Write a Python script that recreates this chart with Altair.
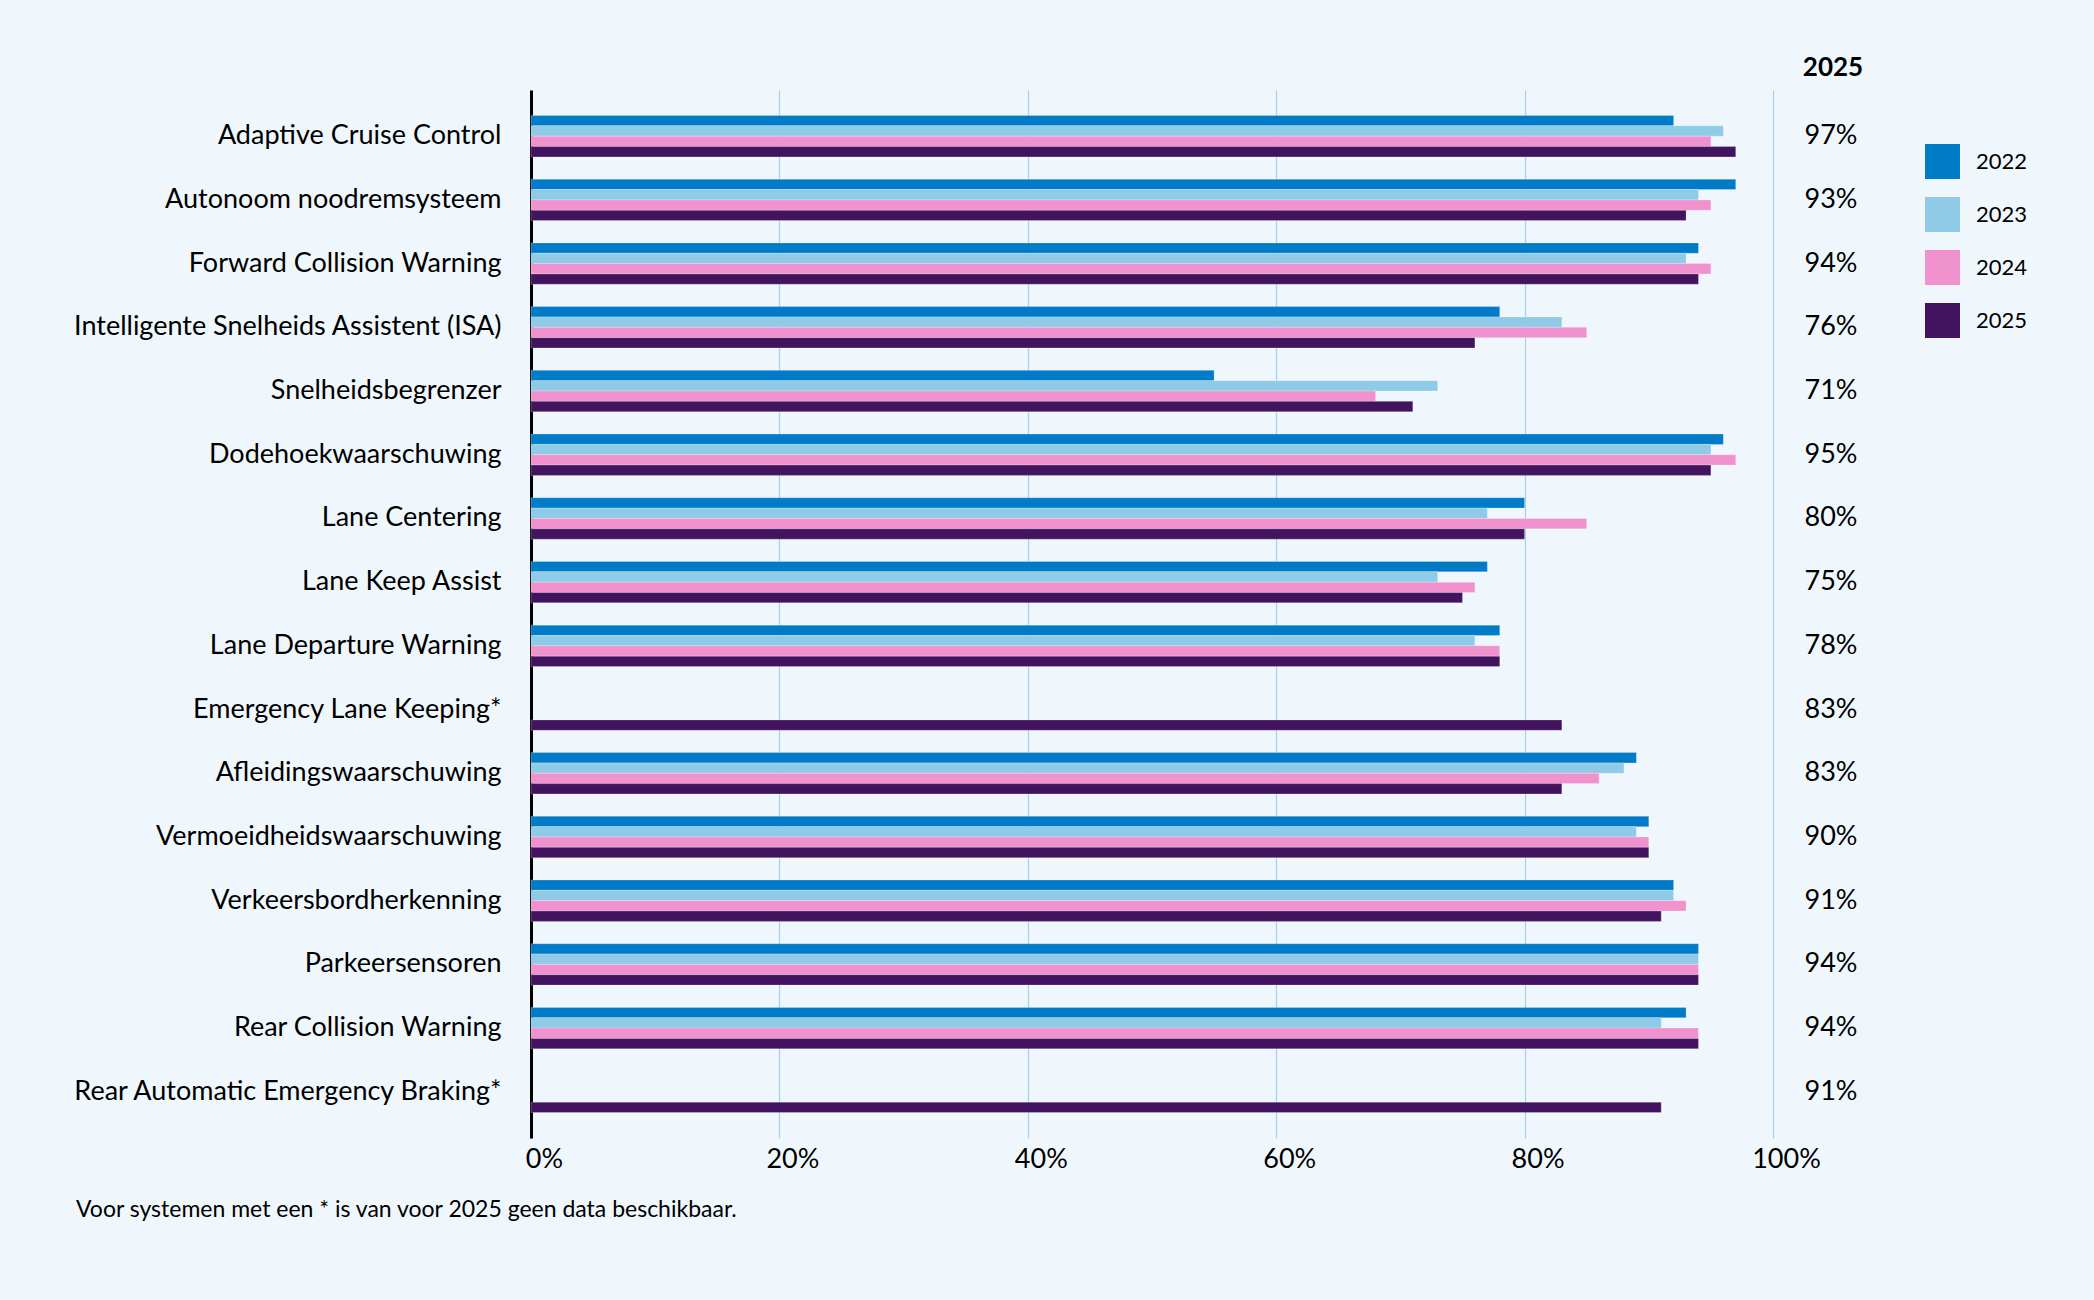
import altair as alt
import pandas as pd

# Share of new cars equipped with each driver-assistance system, per year (%)
systems = [
    "Adaptive Cruise Control",
    "Autonoom noodremsysteem",
    "Forward Collision Warning",
    "Intelligente Snelheids Assistent (ISA)\u00a0",
    "Snelheidsbegrenzer",
    "Dodehoekwaarschuwing",
    "Lane Centering",
    "Lane Keep Assist",
    "Lane Departure Warning",
    "Emergency Lane Keeping*",
    "Afleidingswaarschuwing",
    "Vermoeidheidswaarschuwing",
    "Verkeersbordherkenning",
    "Parkeersensoren",
    "Rear Collision Warning",
    "Rear Automatic Emergency Braking*",
]
years = ["2022", "2023", "2024", "2025"]
v2022 = [92, 97, 94, 78, 55, 96, 80, 77, 78, None, 89, 90, 92, 94, 93, None]
v2023 = [96, 94, 93, 83, 73, 95, 77, 73, 76, None, 88, 89, 92, 94, 91, None]
v2024 = [95, 95, 95, 85, 68, 97, 85, 76, 78, None, 86, 90, 93, 94, 94, None]
v2025 = [97, 93, 94, 76, 71, 95, 80, 75, 78, 83, 83, 90, 91, 94, 94, 91]
colors = ["#007bc7", "#8fcae7", "#f092cd", "#42145f"]
ticks = [0, 20, 40, 60, 80, 100]
footnote = "Voor systemen met een * is van voor 2025 geen data beschikbaar."

FONT = "Lato"
BG = "#eff7fd"

rows = []
for year, series in zip(years, [v2022, v2023, v2024, v2025]):
    for system, value in zip(systems, series):
        if value is not None:
            rows.append({"system": system, "year": year, "value": value})
df = pd.DataFrame(rows)
df25 = pd.DataFrame({"system": systems, "label": [f"{v}%" for v in v2025]})

y_enc = alt.Y(
    "system:N",
    sort=systems,
    scale=alt.Scale(paddingInner=0.35, paddingOuter=0.4),
    axis=alt.Axis(
        title=None,
        ticks=False,
        tickSize=0,
        labelPadding=30,
        labelLimit=700,
        labelFont=FONT,
        labelFontSize=27,
        labelColor="#000000",
        domainColor="#000000",
        domainWidth=3,
        grid=False,
    ),
)

bars = alt.Chart(df).mark_bar(stroke="#ffffff", strokeWidth=0.8, strokeOpacity=0.3).encode(
    x=alt.X(
        "value:Q",
        scale=alt.Scale(domain=[0, 100], nice=False),
        axis=alt.Axis(
            title=None,
            values=ticks,
            labelExpr="datum.value + '%'",
            domain=False,
            ticks=False,
            tickSize=0,
            labelPadding=8,
            labelOffset=13,
            labelFlush=False,
            labelFont=FONT,
            labelFontSize=27,
            labelColor="#000000",
            grid=True,
            gridColor="#a3d3ec",
            gridWidth=1.2,
        ),
    ),
    y=y_enc,
    yOffset=alt.YOffset("year:N", scale=alt.Scale(domain=years)),
    color=alt.Color(
        "year:N",
        scale=alt.Scale(domain=years, range=colors),
        legend=alt.Legend(
            title=None,
            orient="none",
            legendX=1394,
            legendY=54,
            symbolType="square",
            symbolSize=1225,
            symbolStrokeWidth=0,
            symbolOpacity=1,
            labelFont=FONT,
            labelFontSize=22,
            labelColor="#000000",
            labelOffset=16,
            rowPadding=18,
        ),
    ),
)

values = alt.Chart(df25).mark_text(
    font=FONT, fontSize=27, color="#000000", align="center", baseline="middle"
).encode(
    y=alt.Y("system:N", sort=systems),
    x=alt.value(1300),
    text="label:N",
)

header = alt.Chart(pd.DataFrame({"t": ["2025"]})).mark_text(
    font=FONT, fontSize=26, fontWeight="bold", color="#000000", align="center", baseline="middle"
).encode(x=alt.value(1302), y=alt.value(-22), text="t:N")

note = alt.Chart(pd.DataFrame({"t": [footnote]})).mark_text(
    font=FONT, fontSize=23, color="#000000", align="left", baseline="middle"
).encode(x=alt.value(-455), y=alt.value(1120), text="t:N")

chart = (
    alt.layer(bars, values, header, note)
    .properties(
        width=1242,
        height=1048,
        autosize=alt.AutoSizeParams(type="none"),
        padding={"left": 531, "top": 90, "right": 321, "bottom": 162},
        background=BG,
    )
    .configure_view(stroke=None)
)

chart.save("out.html", embed_options={"renderer": "svg", "actions": False})
